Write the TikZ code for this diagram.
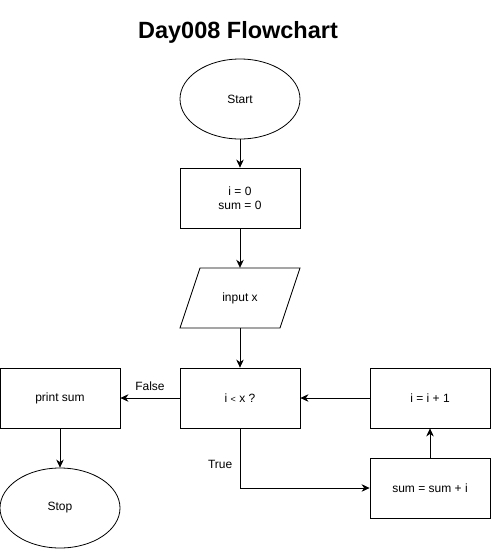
\documentclass[tikz,border=0pt]{standalone}
\usepackage{fontspec}
\setmainfont{Liberation Sans}
\usetikzlibrary{shapes.geometric,arrows.meta}
\begin{document}
\begin{tikzpicture}[x=1pt,y=-1pt,
  every node/.style={font=\fontsize{12}{14}\selectfont},
  box/.style={draw,line width=0.8pt,minimum width=120pt,minimum height=60pt,inner sep=0pt,align=center},
  oval/.style={draw,line width=0.8pt,ellipse,minimum width=120pt,minimum height=80pt,inner sep=0pt},
  arr/.style={line width=0.8pt,-{Stealth[length=8pt,width=7.5pt,inset=2.5pt]}}]
\useasboundingbox (0,0) rectangle (491,549);
\node[font=\bfseries\fontsize{23.5}{26}\selectfont] (title) at (238,32) {Day008 Flowchart};
\node[oval] (start) at (240,99) {Start};
\node[box] (init) at (240,198) {i = 0\\sum = 0};
\draw[line width=0.8pt] (200,268) -- (300,268) -- (280,328) -- (180,328) -- cycle;
\node[minimum width=120pt,minimum height=60pt,inner sep=0pt] (input) at (240,298) {input x};
\node[box] (cond) at (240,398) {i {\fontsize{9}{10}\selectfont <} x ?};
\node[box] (print) at (60,398) {print sum};
\node[oval] (stop) at (60,508) {Stop};
\node[box] (inc) at (430,398) {i = i + 1};
\node[box] (add) at (430,488) {sum = sum + i};
\draw[arr] (start) -- (init);
\draw[arr] (init) -- (input);
\draw[arr] (input) -- (cond);
\draw[arr] (cond) -- node[above=4pt,pos=0.5] (f) {False} (print);
\draw[arr] (print) -- (stop);
\draw[arr] (cond.south) |- node[pos=0.3,left=4pt] (t) {True} (add.west);
\draw[arr] (add) -- (inc);
\draw[arr] (inc) -- (cond);
\end{tikzpicture}
\end{document}
